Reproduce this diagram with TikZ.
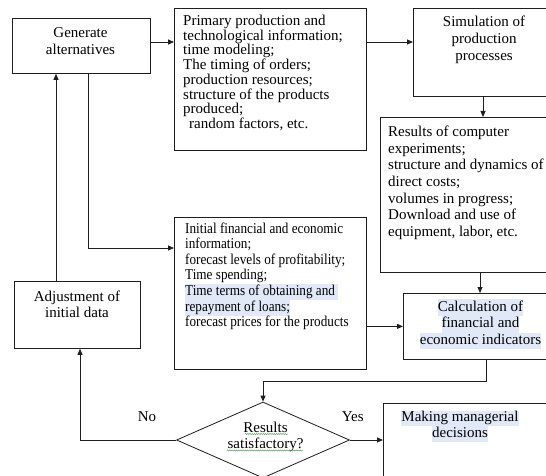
\documentclass[tikz,border=0pt]{standalone}
\usepackage{fontspec}
\setmainfont{Liberation Serif}
\newfontfamily\narrowserif[FakeStretch=0.88]{Liberation Serif}
\usetikzlibrary{arrows.meta,shapes.geometric,calc,decorations.pathmorphing}
\definecolor{hlblue}{RGB}{225,233,248}
\definecolor{sqgreen}{RGB}{90,170,90}
\definecolor{linegray}{RGB}{30,30,30}
\newcommand{\hlline}[1]{{\setlength{\fboxsep}{0pt}\colorbox{hlblue}{\strut #1}}}
\lineskiplimit=-50pt
\begin{document}
\begin{tikzpicture}[x=1pt,y=-1pt,
  bx/.style={draw=linegray, line width=0.8pt, inner sep=0pt, anchor=north west},
  arr/.style={draw=linegray, line width=0.8pt, -{Triangle[length=6pt,width=5pt]}},
  txt/.style={inner sep=0pt, anchor=base west},
  ctxt/.style={inner sep=0pt, anchor=base},
  squig/.style={draw=sqgreen, line width=0.5pt, decorate, decoration={snake, amplitude=0.6pt, segment length=2.2pt}}]
\useasboundingbox (0,0) rectangle (546,476);
\clip (0,0) rectangle (546,476);
\fill[white] (0,0) rectangle (546,476);

% boxes
\node[bx, minimum width=138pt, minimum height=55pt] (gen) at (12,18) {};
\node[bx, minimum width=192pt, minimum height=142pt] (prim) at (174,8) {};
\node[bx, minimum width=142pt, minimum height=88pt] (sim) at (413,8) {};
\node[bx, minimum width=180pt, minimum height=155pt] (res) at (380,117) {};
\node[bx, minimum width=192pt, minimum height=152pt] (init) at (174,217) {};
\node[bx, minimum width=160pt, minimum height=66pt] (calc) at (403,293) {};
\node[bx, minimum width=126pt, minimum height=67pt] (adj) at (14,281) {};
\node[bx, minimum width=180pt, minimum height=100pt] (mak) at (383,403) {};
\node[diamond, draw=linegray, line width=0.8pt, inner sep=0pt, shape aspect=2.28,
      minimum width=173pt, minimum height=76pt] (dia) at (263,440) {};

% texts
\node[ctxt] (tgen) at (80.5,38) {\parbox[t]{130pt}{\centering\fontsize{15}{17}\selectfont Generate\\alternatives}};
\node[txt] (tprim) at (183,25.5) {\parbox[t]{200pt}{\raggedright\fontsize{15}{13.3}\selectfont
Primary production and\\
technological information;\\
time modeling;\\
The timing of orders;\\
production resources;\\
structure of the products\\
produced;\\
\hspace*{6pt}random factors, etc.}};
\node[ctxt] (tsim) at (484,26.5) {\parbox[t]{140pt}{\centering\fontsize{15}{17}\selectfont Simulation of\\production\\processes}};
\node[txt] (tres) at (388,136.5) {\parbox[t]{200pt}{\raggedright\fontsize{15}{16.7}\selectfont
Results of computer\\
experiments;\\
structure and dynamics of\\
direct costs;\\
volumes in progress;\\
Download and use of\\
equipment, labor, etc.}};
\node[txt] (tinit) at (185,233) {\parbox[t]{200pt}{\raggedright\narrowserif\fontsize{15}{15.6}\selectfont
Initial financial and economic\\
information;\\
forecast levels of profitability;\\
Time spending;\\
\hlline{Time terms of obtaining and\ }\\
\hlline{repayment of loans;}\\
forecast prices for the products}};
\node[ctxt] (tcalc) at (480.5,311) {\parbox[t]{160pt}{\centering\fontsize{15}{16.7}\selectfont
\hlline{Calculation of}\\\hlline{financial and}\\\hlline{economic indicators}}};
\node[ctxt] (tadj) at (77,301) {\parbox[t]{130pt}{\centering\fontsize{15}{16.7}\selectfont Adjustment of\\initial data}};
\node[ctxt] (tmak) at (460,421.5) {\parbox[t]{170pt}{\centering\fontsize{15}{15.5}\selectfont
\hlline{Making managerial}\\\hlline{decisions}}};
\node[ctxt] (tdia) at (265.5,432) {\parbox[t]{120pt}{\centering\fontsize{15}{16}\selectfont Results\\satisfactory?}};
\node[ctxt] (tno) at (147,421.5) {\fontsize{15}{17}\selectfont No};
\node[ctxt] (tyes) at (352.7,421.5) {\fontsize{15}{17}\selectfont Yes};

% spell-check squiggles
\draw[squig] (245,434) -- (288,434);
\draw[squig] (227,450.5) -- (303,450.5);

% connectors
\draw[arr] ($(gen.north east)+(0,24)$) coordinate (a1) -- (a1 -| prim.west);
\draw[arr] ($(prim.north east)+(0,34)$) coordinate (a2) -- (a2 -| sim.west);
\draw[arr] ($(sim.south west)+(70,0)$) coordinate (a3) -- (a3 |- res.north);
\draw[arr] ($(res.south west)+(100,0)$) coordinate (a4) -- (a4 |- calc.north);
\draw[arr] (init.east |- calc.west) -- (calc.west);
\draw[arr] ($(adj.north west)+(42,0)$) coordinate (a6) -- (a6 |- gen.south);
\draw[arr] ($(gen.south west)+(76,0)$) coordinate (a7) |- ($(init.north west)+(0,31)$);
\draw[arr] ($(calc.south west)+(83,0)$) coordinate (a8) -- ++(0,22) coordinate (a8b) -| (dia.north);
\draw[arr] (dia.west) -| ($(adj.south west)+(66,0)$);
\draw[arr] (dia.east) -- (dia.east -| mak.west);
\end{tikzpicture}
\end{document}
